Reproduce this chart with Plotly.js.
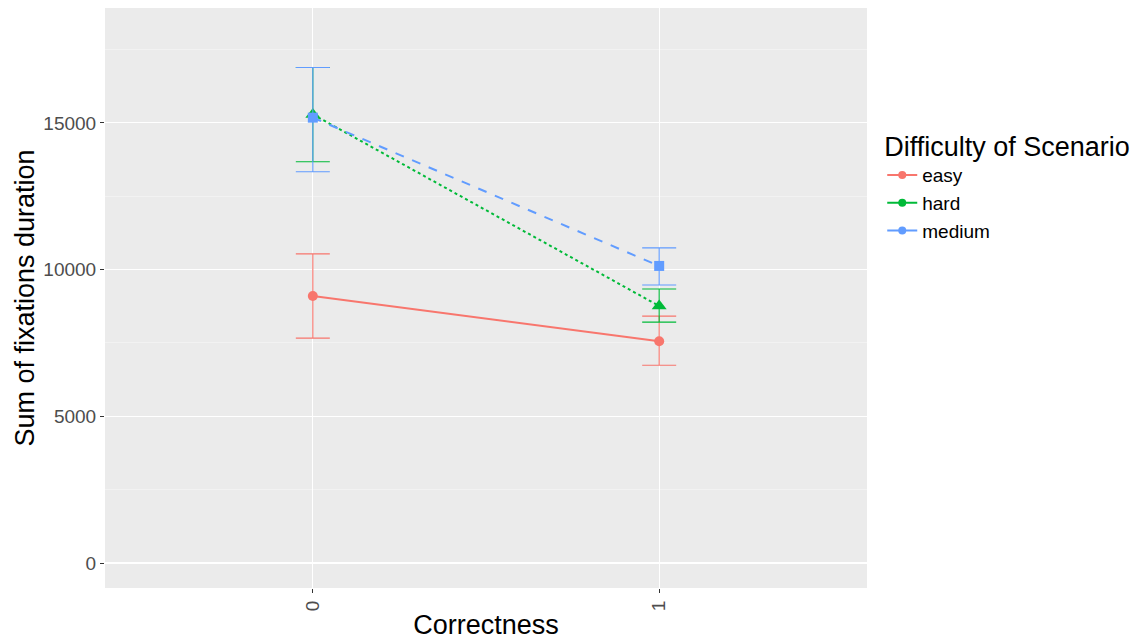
<!DOCTYPE html>
<html>
<head>
<meta charset="utf-8">
<script src="https://cdn.plot.ly/plotly-3.0.1.min.js"></script>
<style>html,body{margin:0;padding:0;background:#fff;}#chart{width:1144px;height:641px;}</style>
</head>
<body>
<div id="chart"></div>
<script>
// Data
const correctness = [0, 1];
const easyMean = [9100, 7560];
const easyUpper = [10535, 8416];
const easyLower = [7665, 6742];
const hardMean = [15290, 8760];
const hardUpper = [16890, 9339];
const hardLower = [13678, 8211];
const mediumMean = [15180, 10125];
const mediumUpper = [16890, 10740];
const mediumLower = [13337, 9475];
const seriesNames = ['easy', 'hard', 'medium'];
const yTicks = [0, 5000, 10000, 15000];

const colors = ['#F8766D', '#00BA38', '#619CFF'];
const dashes = ['solid', 'dot', 'dash'];
const symbols = ['circle', 'triangle-up', 'square'];
const sizes = [10, 13, 10];
const means = [easyMean, hardMean, mediumMean];
const uppers = [easyUpper, hardUpper, mediumUpper];
const lowers = [easyLower, hardLower, mediumLower];

const font = 'Liberation Sans, Arimo, Arial, sans-serif';
const traces = [];
seriesNames.forEach((name, i) => {
  traces.push({
    x: correctness, y: means[i], type: 'scatter', mode: 'lines+markers',
    name: name, showlegend: false,
    line: {color: colors[i], width: 2, dash: dashes[i]},
    marker: {color: colors[i], size: sizes[i], symbol: symbols[i]},
    error_y: {
      type: 'data', symmetric: false,
      array: uppers[i].map((u, k) => u - means[i][k]),
      arrayminus: lowers[i].map((l, k) => means[i][k] - l),
      color: colors[i], thickness: 1.1, width: 17
    }
  });
});
// legend entries (ggplot shows circles with solid lines)
seriesNames.forEach((name, i) => {
  traces.push({
    x: [null], y: [null], type: 'scatter', mode: 'lines+markers', name: name,
    line: {color: colors[i], width: 2},
    marker: {color: colors[i], size: 8, symbol: 'circle'}
  });
});

const layout = {
  width: 1144, height: 641,
  margin: {l: 105, r: 277, t: 8, b: 53},
  paper_bgcolor: '#ffffff', plot_bgcolor: '#EBEBEB',
  font: {family: font, color: '#000'},
  xaxis: {
    range: [-0.6, 1.6], tickvals: correctness, ticktext: correctness.map(String),
    tickangle: -90, showgrid: true, gridcolor: '#ffffff', gridwidth: 1.1,
    zeroline: false, showline: false,
    ticks: 'outside', ticklen: 4, tickcolor: '#333333', tickwidth: 1,
    tickfont: {family: font, size: 19, color: '#4D4D4D'},
    title: {text: 'Correctness', font: {family: font, size: 27, color: '#000'}, standoff: 4}
  },
  yaxis: {
    range: [-852, 18917], tickvals: yTicks, ticktext: yTicks.map(String),
    showgrid: true, gridcolor: '#ffffff', gridwidth: 1.1,
    zeroline: false, showline: false,
    ticks: 'outside', ticklen: 4, tickcolor: '#333333', tickwidth: 1,
    tickfont: {family: font, size: 19, color: '#4D4D4D'},
    minor: {dtick: 2500, tick0: 0, showgrid: true, gridcolor: '#F7F7F7', gridwidth: 0.6, ticks: ''},
    title: {text: 'Sum of fixations duration', font: {family: font, size: 27, color: '#000'}, standoff: 0}
  },
  legend: {
    x: 1.02, y: 0.805, xanchor: 'left', yanchor: 'top',
    bgcolor: 'rgba(0,0,0,0)',
    font: {family: font, size: 19, color: '#000'},
    title: {text: 'Difficulty of Scenario', font: {family: font, size: 27, color: '#000'}},
    tracegroupgap: 0, itemwidth: 30
  },
  showlegend: true
};

Plotly.newPlot('chart', traces, layout, {displayModeBar: false, staticPlot: true});
</script>
</body>
</html>
